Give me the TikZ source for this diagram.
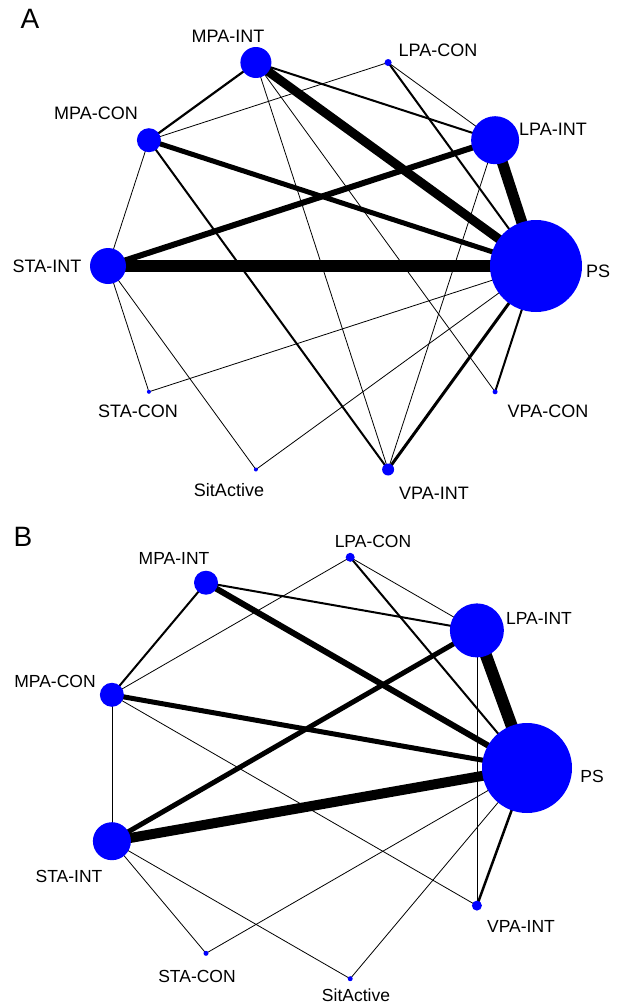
\documentclass[tikz,border=0pt]{standalone}
\usepackage{fontspec}
\setmainfont{Liberation Sans}
\pgfdeclarelayer{edges}
\pgfsetlayers{edges,main}
\begin{document}
\begin{tikzpicture}[x=1pt,y=-1pt,
  nd/.style={circle, fill=blue, draw=none, inner sep=0pt, minimum size=#1},
  lbl/.style={inner sep=0pt, font=\fontsize{18}{18}\selectfont},
  lblb/.style={inner sep=0pt, font=\fontsize{17.5}{18}\selectfont},
  panel/.style={inner sep=0pt, font=\fontsize{28}{28}\selectfont},
  e/.style={line width=#1, black},
  thin edge/.style={line width=0.8pt, black}]
\useasboundingbox (0,0) rectangle (617,1004);

% ---------------- Panel A ----------------
\node[panel] (labA) at (30,19) {A};
\node[nd=92] (aPS) at (536,266) {};
\node[nd=48] (aLPAI) at (495.1,140.2) {};
\node[nd=7] (aLPAC) at (388.1,62.5) {};
\node[nd=31] (aMPAI) at (255.9,62.5) {};
\node[nd=24] (aMPAC) at (148.9,140.2) {};
\node[nd=36] (aSTAI) at (108,266) {};
\node[nd=4] (aSTAC) at (148.9,391.8) {};
\node[nd=4] (aSit) at (255.9,469.5) {};
\node[nd=12] (aVPAI) at (388.1,469.5) {};
\node[nd=5] (aVPAC) at (495.1,391.8) {};

\node[lbl] (taMPAI) at (228,36) {MPA-INT};
\node[lbl] (taLPAC) at (438,50) {LPA-CON};
\node[lbl] (taMPAC) at (96,113.5) {MPA-CON};
\node[lbl] (taLPAI) at (553,129) {LPA-INT};
\node[lbl] (taSTAI) at (47,266) {STA-INT};
\node[lbl] (taPS) at (598,271) {PS};
\node[lbl] (taSTAC) at (138,411) {STA-CON};
\node[lbl] (taVPAC) at (548,411) {VPA-CON};
\node[lbl] (taSit) at (229,490) {SitActive};
\node[lbl] (taVPAI) at (434,493) {VPA-INT};

\begin{pgfonlayer}{edges}
\draw[e=12pt] (aSTAI.center) -- (aPS.center);
\draw[e=11pt] (aLPAI.center) -- (aPS.center);
\draw[e=9pt] (aMPAI.center) -- (aPS.center);
\draw[e=6pt] (aSTAI.center) -- (aLPAI.center);
\draw[e=5pt] (aMPAC.center) -- (aPS.center);
\draw[e=2.2pt] (aMPAI.center) -- (aMPAC.center);
\draw[e=2pt] (aMPAI.center) -- (aLPAI.center);
\draw[e=2pt] (aLPAC.center) -- (aPS.center);
\draw[e=2pt] (aMPAC.center) -- (aVPAI.center);
\draw[e=3pt] (aPS.center) -- (aVPAI.center);
\draw[e=2pt] (aPS.center) -- (aVPAC.center);
\draw[thin edge] (aLPAC.center) -- (aMPAC.center);
\draw[thin edge] (aLPAC.center) -- (aLPAI.center);
\draw[thin edge] (aMPAI.center) -- (aVPAI.center);
\draw[thin edge] (aMPAI.center) -- (aVPAC.center);
\draw[thin edge] (aLPAI.center) -- (aVPAI.center);
\draw[thin edge] (aMPAC.center) -- (aSTAI.center);
\draw[thin edge] (aSTAI.center) -- (aSTAC.center);
\draw[thin edge] (aSTAI.center) -- (aSit.center);
\draw[thin edge] (aSTAC.center) -- (aPS.center);
\draw[thin edge] (aSit.center) -- (aPS.center);
\end{pgfonlayer}

% ---------------- Panel B ----------------
\node[panel] (labB) at (23,537) {B};
\node[nd=90] (bPS) at (527,768) {};
\node[nd=54] (bLPAI) at (476.9,630.4) {};
\node[nd=9] (bLPAC) at (350.2,557.3) {};
\node[nd=24] (bMPAI) at (206,582.7) {};
\node[nd=24] (bMPAC) at (111.9,694.8) {};
\node[nd=38] (bSTAI) at (111.9,841.2) {};
\node[nd=5] (bSTAC) at (206,953.3) {};
\node[nd=5] (bSit) at (350.2,978.7) {};
\node[nd=10] (bVPAI) at (476.9,905.6) {};

\node[lblb] (tbLPAC) at (373,541) {LPA-CON};
\node[lblb] (tbMPAI) at (174,558) {MPA-INT};
\node[lblb] (tbLPAI) at (539,618) {LPA-INT};
\node[lblb] (tbMPAC) at (55,681) {MPA-CON};
\node[lblb] (tbPS) at (592,776) {PS};
\node[lblb] (tbSTAI) at (69,876) {STA-INT};
\node[lblb] (tbVPAI) at (521,926) {VPA-INT};
\node[lblb] (tbSTAC) at (197,976) {STA-CON};
\node[lblb] (tbSit) at (356,995) {SitActive};

\begin{pgfonlayer}{edges}
\draw[e=10pt] (bSTAI.center) -- (bPS.center);
\draw[e=12pt] (bLPAI.center) -- (bPS.center);
\draw[e=6pt] (bMPAI.center) -- (bPS.center);
\draw[e=5pt] (bMPAC.center) -- (bPS.center);
\draw[e=5pt] (bSTAI.center) -- (bLPAI.center);
\draw[e=2pt] (bMPAI.center) -- (bMPAC.center);
\draw[e=2pt] (bMPAI.center) -- (bLPAI.center);
\draw[e=2pt] (bLPAC.center) -- (bPS.center);
\draw[e=2.5pt] (bVPAI.center) -- (bPS.center);
\draw[thin edge] (bLPAC.center) -- (bMPAC.center);
\draw[thin edge] (bLPAC.center) -- (bLPAI.center);
\draw[thin edge] (bLPAI.center) -- (bVPAI.center);
\draw[thin edge] (bMPAC.center) -- (bSTAI.center);
\draw[thin edge] (bMPAC.center) -- (bVPAI.center);
\draw[thin edge] (bSTAI.center) -- (bSTAC.center);
\draw[thin edge] (bSTAI.center) -- (bSit.center);
\draw[thin edge] (bSTAC.center) -- (bPS.center);
\draw[thin edge] (bSit.center) -- (bPS.center);
\end{pgfonlayer}
\end{tikzpicture}
\end{document}
